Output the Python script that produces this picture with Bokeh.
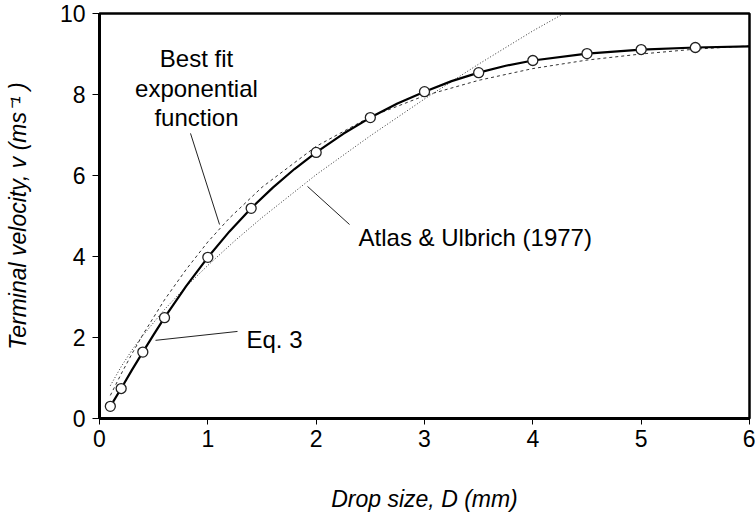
from bokeh.plotting import figure
from bokeh.models import Range1d, Label, FixedTicker
from bokeh.embed import file_html
from bokeh.resources import INLINE

# Observed terminal velocities (circles)
d_obs = [0.1, 0.2, 0.4, 0.6, 1.0, 1.4, 2.0, 2.5, 3.0, 3.5, 4.0, 4.5, 5.0, 5.5]
v_obs = [0.30, 0.74, 1.64, 2.49, 3.98, 5.19, 6.57, 7.43, 8.07, 8.54, 8.84, 9.01, 9.11, 9.16]

# Eq. 3 (solid curve)
eq3_d = [0.1, 0.2, 0.3, 0.4, 0.5, 0.6, 0.8, 1.0, 1.2, 1.4, 1.6, 1.8, 2.0, 2.25, 2.5, 2.75,
         3.0, 3.25, 3.5, 3.75, 4.0, 4.5, 5.0, 5.5, 6.0]
eq3_v = [0.30, 0.74, 1.20, 1.64, 2.07, 2.49, 3.27, 3.98, 4.62, 5.19, 5.70, 6.16, 6.57, 7.03, 7.43, 7.78,
         8.07, 8.33, 8.54, 8.71, 8.84, 9.01, 9.11, 9.16, 9.19]

# Best fit exponential function (dashed curve)
exp_d = [0.1, 0.2, 0.3, 0.4, 0.6, 0.8, 1.0, 1.2, 1.5, 2.0, 2.5, 3.0, 3.5, 4.0, 4.5, 5.0, 5.5, 6.0]
exp_v = [0.57, 1.10, 1.60, 2.07, 2.93, 3.68, 4.36, 4.95, 5.71, 6.72, 7.45, 7.97, 8.35, 8.64, 8.85, 9.00, 9.12, 9.20]

# Atlas & Ulbrich (1977) (dotted curve)
au_d = [0.1, 0.2, 0.3, 0.4, 0.6, 0.8, 1.0, 1.25, 1.5, 2.0, 2.5, 3.0, 3.5, 4.0, 4.3]
au_v = [0.81, 1.28, 1.69, 2.05, 2.69, 3.26, 3.78, 4.39, 4.96, 6.02, 6.98, 7.89, 8.75, 9.57, 10.02]

x_ticks = [0, 1, 2, 3, 4, 5, 6]
y_ticks = [0, 2, 4, 6, 8, 10]

FONT = "Liberation Sans"

p = figure(width=755, height=517, x_range=Range1d(0, 6), y_range=Range1d(0, 10),
           output_backend="svg", toolbar_location=None,
           min_border_left=99, min_border_right=6, min_border_top=13, min_border_bottom=99)
p.background_fill_color = "white"
p.border_fill_color = "white"
p.xgrid.visible = False
p.ygrid.visible = False
p.outline_line_color = "black"
p.outline_line_width = 2.5
p.outline_line_alpha = 1.0

for ax, ticks, tout, stand in ((p.xaxis, x_ticks, 6, 5), (p.yaxis, y_ticks, 7, 7)):
    ax.ticker = FixedTicker(ticks=ticks)
    ax.axis_line_width = 3
    ax.axis_line_color = "black"
    ax.major_tick_line_color = "black"
    ax.major_tick_line_width = 1
    ax.major_tick_out = tout
    ax.major_tick_in = 0
    ax.minor_tick_out = 0
    ax.minor_tick_in = 0
    ax.major_label_text_font = FONT
    ax.major_label_text_font_size = "23px"
    ax.major_label_text_color = "black"
    ax.major_label_standoff = stand
    ax.axis_label_text_font = FONT
    ax.axis_label_text_font_size = "23px"
    ax.axis_label_text_font_style = "italic"
    ax.axis_label_text_color = "black"

p.xaxis.axis_label = "Drop size, D (mm)"
p.xaxis.axis_label_standoff = 36
p.yaxis.axis_label = "Terminal velocity, v (ms\u207b\u00b9 )"
p.yaxis.axis_label_standoff = 26

# curves
p.line(au_d, au_v, line_color="#333333", line_width=1, line_dash="1 2")
p.line(exp_d, exp_v, line_color="#333333", line_width=1, line_dash="3 3")
p.line(eq3_d, eq3_v, line_color="black", line_width=2.2)
p.scatter(d_obs, v_obs, marker="circle", size=10, fill_color="white",
          line_color="#222222", line_width=1.3)

# leader lines
p.segment(x0=[0.840, 0.517, 1.920], y0=[7.04, 1.93, 5.73],
          x1=[1.108, 1.274, 2.308], y1=[4.79, 2.15, 4.79],
          line_color="#222222", line_width=1)

def lab(x, y, t, align="left"):
    p.add_layout(Label(x=x, y=y, text=t, text_font=FONT, text_font_size="24px",
                       text_color="black", text_align=align, text_baseline="alphabetic"))

lab(0.895, 8.89, "Best fit", "center")
lab(0.895, 8.15, "exponential", "center")
lab(0.895, 7.43, "function", "center")
lab(2.391, 4.47, "Atlas & Ulbrich (1977)")
lab(1.357, 1.95, "Eq. 3")

open("out.html", "w").write(file_html(p, INLINE))
